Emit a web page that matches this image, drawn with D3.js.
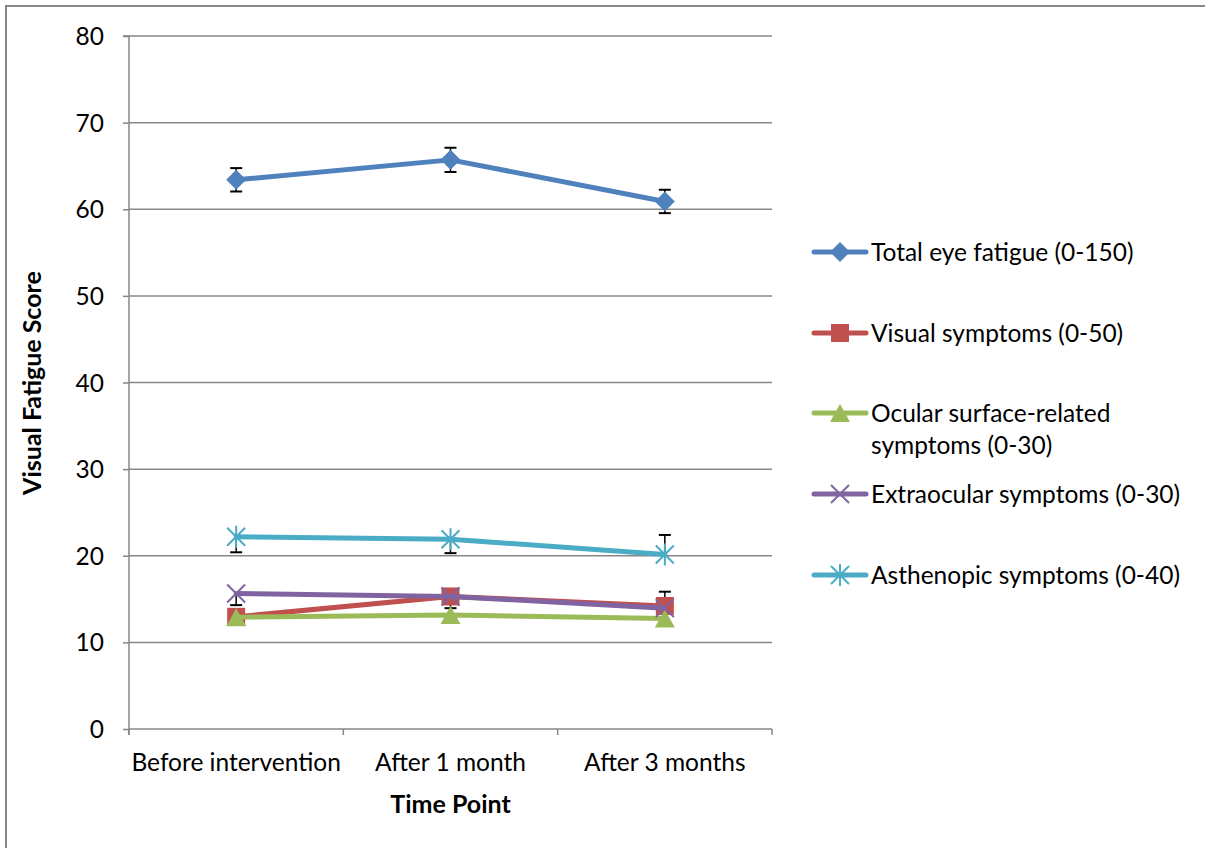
<!DOCTYPE html>
<html><head><meta charset="utf-8">
<script src="https://cdn.jsdelivr.net/npm/d3@7"></script>
<style>
html,body{margin:0;padding:0;background:#fff;}
svg text{font-family:"Lato","Open Sans",sans-serif;fill:#000;}
</style></head>
<body>
<svg id="chart" width="1205" height="848"></svg>
<script>
const categories = ["Before intervention", "After 1 month", "After 3 months"];
const seriesNames = ["Total eye fatigue (0-150)", "Visual symptoms (0-50)", "Ocular surface-related symptoms (0-30)", "Extraocular symptoms (0-30)", "Asthenopic symptoms (0-40)"];
const legendLines = [["Total eye fatigue (0-150)"], ["Visual symptoms (0-50)"], ["Ocular surface-related", "symptoms (0-30)"], ["Extraocular symptoms (0-30)"], ["Asthenopic symptoms (0-40)"]];
const totalValues = [63.4, 65.7, 60.9];
const visualValues = [12.95, 15.3, 14.2];
const ocularValues = [12.9, 13.15, 12.75];
const extraValues = [15.65, 15.3, 13.95];
const asthenopicValues = [22.2, 21.9, 20.15];
const totalErrUp = [1.35, 1.4, 1.35], totalErrDown = [1.35, 1.4, 1.35];
const visualErrUp = [0, 0, 1.65], visualErrDown = [0, 1.35, 0];
const ocularErrUp = [0, 0, 0], ocularErrDown = [0, 0, 0];
const extraErrUp = [0, 0, 0], extraErrDown = [1.35, 0, 0];
const asthenopicErrUp = [0, 0, 2.25], asthenopicErrDown = [1.8, 1.6, 0];
const yTicks = [0, 10, 20, 30, 40, 50, 60, 70, 80];
const colors = ["#4F81BD", "#C0504D", "#9BBB59", "#8064A2", "#4BACC6"];
const markerTypes = ["diamond", "square", "triangle", "x", "asterisk"];

const seriesValues = [totalValues, visualValues, ocularValues, extraValues, asthenopicValues];
const errUps = [totalErrUp, visualErrUp, ocularErrUp, extraErrUp, asthenopicErrUp];
const errDowns = [totalErrDown, visualErrDown, ocularErrDown, extraErrDown, asthenopicErrDown];

const svg = d3.select("#chart");
const pLeft = 129, pRight = 772, pTop = 36, pBottom = 729;
const gridColor = "#878787";
const fs = "24.5px";

// outer border
svg.append("rect").attr("x", 6).attr("y", 6).attr("width", 1300).attr("height", 1000)
  .attr("fill", "none").attr("stroke", gridColor).attr("stroke-width", 2);

const x = d3.scaleBand().domain(categories).range([pLeft, pRight]);
const y = d3.scaleLinear().domain([0, 80]).range([pBottom, pTop]);

// gridlines
svg.append("g").selectAll("line").data(yTicks.filter(t => t > 0)).join("line")
  .attr("x1", pLeft).attr("x2", pRight).attr("y1", d => y(d)).attr("y2", d => y(d))
  .attr("stroke", gridColor).attr("stroke-width", 1.5);

// y axis
const yAxis = svg.append("g").attr("transform", `translate(${pLeft},0)`)
  .call(d3.axisLeft(y).tickValues(yTicks).tickSize(6).tickPadding(19).tickFormat(d3.format("d")));
yAxis.select(".domain").attr("stroke", gridColor).attr("stroke-width", 1.5).attr("d", `M-6,${pTop}H0V${pBottom + 6}`);
yAxis.selectAll(".tick line").attr("stroke", gridColor).attr("stroke-width", 1.5);
yAxis.selectAll(".tick text").style("font-size", fs).attr("font-family", "Lato").attr("dy", "0.35em");

// x axis
const xAxis = svg.append("g").attr("transform", `translate(0,${pBottom})`)
  .call(d3.axisBottom(x).tickSize(0).tickPadding(25));
xAxis.select(".domain").attr("stroke", gridColor).attr("stroke-width", 1.5).attr("d", `M${pLeft},0H${pRight}`);
xAxis.selectAll(".tick text").style("font-size", fs).attr("font-family", "Lato");
const bounds = [pLeft].concat(categories.map(c => x(c) + x.bandwidth()));
svg.append("g").selectAll("line").data(bounds).join("line")
  .attr("x1", d => d).attr("x2", d => d).attr("y1", pBottom).attr("y2", pBottom + 6)
  .attr("stroke", gridColor).attr("stroke-width", 1.5);

// axis titles
svg.append("text").attr("transform", `translate(41,383) rotate(-90)`)
  .attr("text-anchor", "middle").style("font-size", "25px").style("font-weight", "bold")
  .text("Visual Fatigue Score");
svg.append("text").attr("x", (pLeft + pRight) / 2).attr("y", 813)
  .attr("text-anchor", "middle").style("font-size", "25px").style("font-weight", "bold")
  .text("Time Point");

function marker(g, type, color, cx, cy) {
  const s = 10;
  if (type === "diamond") {
    g.append("path").attr("d", `M${cx},${cy - s}L${cx + s},${cy}L${cx},${cy + s}L${cx - s},${cy}Z`).attr("fill", color);
  } else if (type === "square") {
    g.append("rect").attr("x", cx - 9).attr("y", cy - 9).attr("width", 18).attr("height", 18).attr("fill", color);
  } else if (type === "triangle") {
    g.append("path").attr("d", `M${cx},${cy - 9}L${cx + 10},${cy + 9}L${cx - 10},${cy + 9}Z`).attr("fill", color);
  } else if (type === "x") {
    g.append("path").attr("d", `M${cx - 9},${cy - 9}L${cx + 9},${cy + 9}M${cx - 9},${cy + 9}L${cx + 9},${cy - 9}`)
      .attr("stroke", color).attr("stroke-width", 2).attr("fill", "none");
  } else if (type === "asterisk") {
    g.append("path").attr("d", `M${cx - 9},${cy - 9}L${cx + 9},${cy + 9}M${cx - 9},${cy + 9}L${cx + 9},${cy - 9}M${cx},${cy - 11}L${cx},${cy + 11}`)
      .attr("stroke", color).attr("stroke-width", 2).attr("fill", "none");
  }
}

const line = d3.line().x((d, i) => x(categories[i]) + x.bandwidth() / 2).y(d => y(d));

seriesValues.forEach((vals, si) => {
  const g = svg.append("g");
  vals.forEach((v, i) => {
    const cx = x(categories[i]) + x.bandwidth() / 2;
    [[errUps[si][i], 1], [errDowns[si][i], -1]].forEach(([e, dir]) => {
      if (e > 0) {
        const yEnd = y(v + dir * e);
        g.append("line").attr("x1", cx).attr("x2", cx).attr("y1", y(v)).attr("y2", yEnd).attr("stroke", "#000").attr("stroke-width", 1.5);
        g.append("line").attr("x1", cx - 6).attr("x2", cx + 6).attr("y1", yEnd).attr("y2", yEnd).attr("stroke", "#000").attr("stroke-width", 2);
      }
    });
  });
  g.append("path").datum(vals).attr("d", line).attr("fill", "none")
    .attr("stroke", colors[si]).attr("stroke-width", 5).attr("stroke-linejoin", "round").attr("stroke-linecap", "round");
  vals.forEach((v, i) => marker(g, markerTypes[si], colors[si], x(categories[i]) + x.bandwidth() / 2, y(v)));
});

// legend
const legendY = [252, 333, 413, 494, 575];
seriesNames.forEach((n, si) => {
  const g = svg.append("g");
  const ly = legendY[si];
  g.append("line").attr("x1", 814).attr("x2", 866).attr("y1", ly).attr("y2", ly)
    .attr("stroke", colors[si]).attr("stroke-width", 5).attr("stroke-linecap", "round");
  marker(g, markerTypes[si], colors[si], 840, ly);
  const t = g.append("text").attr("x", 871).attr("y", ly).style("font-size", fs);
  legendLines[si].forEach((l, li) => {
    t.append("tspan").attr("x", 871).attr("dy", li === 0 ? "0.35em" : "1.33em").text(l);
  });
});
</script>
</body></html>
